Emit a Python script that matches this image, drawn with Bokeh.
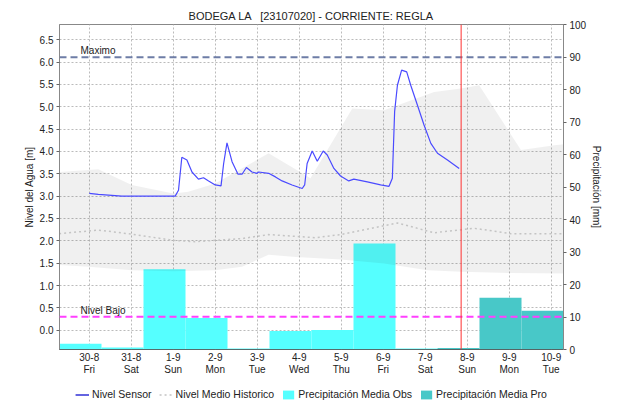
from bokeh.plotting import figure
from bokeh.layouts import column
from bokeh.models import (Range1d, LinearAxis, FixedTicker, Span, Label, Legend,
                          LegendItem, ColumnDataSource, NumeralTickFormatter)
from bokeh.embed import file_html
from bokeh.resources import INLINE

# ---------------- data ----------------
# time axis: hours since 2024-08-30 00:00
day_hours = [0, 24, 48, 72, 96, 120, 144, 168, 192, 216, 240, 264]
day_dates = ["30-8", "31-8", "1-9", "2-9", "3-9", "4-9", "5-9", "6-9", "7-9", "8-9", "9-9", "10-9"]
day_names = ["Fri", "Sat", "Sun", "Mon", "Tue", "Wed", "Thu", "Fri", "Sat", "Sun", "Mon", "Tue"]

sensor_hours = [0, 5.2, 18.6, 49.1, 51, 52.9, 55.8, 58.7, 62.4, 65.3, 68.2, 72, 75.3, 76.8, 78.7,
                81.6, 85, 87.3, 89.8, 93, 95.9, 96.8, 102.5, 106.4, 110.2, 115.9, 121.7, 123.1,
                124.5, 127.4, 130.3, 133.7, 136, 139.8, 143.6, 148.3, 151.2, 158.9, 166.5, 171.3,
                173.2, 174.5, 176.1, 178.5, 181.4, 183.7, 187.5, 191.3, 195.2, 199, 204.7, 211.4]
sensor_level = [3.06, 3.04, 3.00, 3.00, 3.13, 3.87, 3.81, 3.54, 3.38, 3.41, 3.34, 3.25, 3.23, 3.73,
                4.19, 3.77, 3.49, 3.49, 3.64, 3.54, 3.51, 3.54, 3.51, 3.43, 3.34, 3.25, 3.17, 3.25,
                3.73, 4.01, 3.78, 4.01, 3.92, 3.62, 3.45, 3.34, 3.38, 3.32, 3.25, 3.22, 3.40, 4.89,
                5.48, 5.82, 5.78, 5.48, 5.04, 4.59, 4.18, 3.96, 3.81, 3.62]

env_up_hours = [-17.2, 5.2, 24.3, 48.1, 56.5, 72, 102.5, 121.7, 126.4, 150.3, 168.4, 197, 212.3,
                222.8, 246.7, 265.8, 271.5]
env_up_level = [3.54, 3.60, 3.25, 3.06, 3.10, 3.28, 3.96, 3.51, 3.40, 4.96, 4.92, 5.33, 5.41,
                5.48, 4.03, 4.14, 4.16]
env_lo_hours = [-17.2, -0.6, 24.3, 48.1, 72, 87.3, 102.5, 117.8, 143.6, 168.4, 193.3, 212.3, 239.1, 271.5]
env_lo_level = [1.46, 1.42, 1.34, 1.32, 1.34, 1.42, 1.69, 1.64, 1.58, 1.49, 1.34, 1.31, 1.28, 1.27]

med_hours = [-17.2, 5.2, 24.3, 48.1, 60.5, 72, 87.3, 102.5, 129.3, 143.6, 176.1, 197, 220, 241, 271.5]
med_level = [2.16, 2.24, 2.15, 2.01, 1.98, 2.01, 2.05, 2.14, 2.07, 2.14, 2.40, 2.18, 2.28, 2.16, 2.16]

precip_obs = [1.8, 0.6, 24.7, 9.7, 0.3, 5.7, 6.0, 32.6, 0.3]   # 30-8 .. 7-9
precip_pro = [0.5, 15.9, 11.9]                                  # 8-9 .. 10-9

level_max = 6.11
level_low = 0.30
now_hour = 212.5
y_ticks = [0.0, 0.5, 1.0, 1.5, 2.0, 2.5, 3.0, 3.5, 4.0, 4.5, 5.0, 5.5, 6.0, 6.5]
p_ticks = [0, 10, 20, 30, 40, 50, 60, 70, 80, 90, 100]

FONT = "Liberation Sans"
TXT = "#222222"
C_SENSOR = "#4A4AFF"
C_MED = "#C4C4C4"
C_OBS = "#55FFFF"
C_PRO = "#48C8C8"

sensor_src = ColumnDataSource(dict(x=sensor_hours, y=sensor_level))
med_src = ColumnDataSource(dict(x=med_hours, y=med_level))
obs_src = ColumnDataSource(dict(
    left=[h - 17 for h in day_hours[:len(precip_obs)]],
    right=[h + 7 for h in day_hours[:len(precip_obs)]],
    top=precip_obs))
pro_src = ColumnDataSource(dict(
    left=[h - 17 for h in day_hours[len(precip_obs):]],
    right=[h + 7 for h in day_hours[len(precip_obs):]],
    top=precip_pro))

# ---------------- main figure ----------------
p = figure(width=618, height=384, output_backend="svg", toolbar_location=None,
           x_range=Range1d(-17, 271), y_range=Range1d(-0.432, 6.84),
           min_border_left=59, min_border_right=55, min_border_top=24, min_border_bottom=35,
           title="BODEGA LA \u00a0 [23107020] - CORRIENTE: REGLA")
p.title.align = "center"
p.title.text_font = FONT
p.title.text_font_size = "11px"
p.title.text_font_style = "normal"
p.title.text_color = TXT
p.title.standoff = 5
p.outline_line_color = "#888888"
p.background_fill_color = "white"
p.border_fill_color = "white"
p.extra_y_ranges = {"precip": Range1d(0, 100)}

# grids
p.xgrid.ticker = FixedTicker(ticks=day_hours)
p.ygrid.ticker = FixedTicker(ticks=y_ticks)
for g in (p.xgrid, p.ygrid):
    g.grid_line_color = "#BBBBBB"
    g.grid_line_dash = "2 2"
    g.grid_line_width = 1

# precipitation bars
p.quad(left="left", right="right", bottom=0, top="top", source=obs_src,
       y_range_name="precip", fill_color=C_OBS, line_color=None)
p.quad(left="left", right="right", bottom=0, top="top", source=pro_src,
       y_range_name="precip", fill_color=C_PRO, line_color=None)

# historic envelope
p.patch(env_up_hours + env_lo_hours[::-1], env_up_level + env_lo_level[::-1],
        fill_color="#000000", fill_alpha=0.06, line_color=None)
p.line("x", "y", source=med_src, line_color=C_MED, line_width=1.5, line_dash="2 3")

# thresholds
p.add_layout(Span(location=level_max, dimension="width", line_color="#6E7DA6",
                  line_width=2, line_dash="7 4"))
p.add_layout(Span(location=level_low, dimension="width", line_color="#FF3FFF",
                  line_width=2, line_dash="7 4"))
p.add_layout(Label(x=-5, y=level_max, y_offset=1, text="Maximo", text_font=FONT,
                   text_font_size="10px", text_color=TXT, text_baseline="bottom"))
p.add_layout(Label(x=-5, y=level_low, y_offset=1, text="Nivel Bajo", text_font=FONT,
                   text_font_size="10px", text_color=TXT, text_baseline="bottom"))

# sensor
p.line("x", "y", source=sensor_src, line_color=C_SENSOR, line_width=1.2)

# now line
p.add_layout(Span(location=now_hour, dimension="height", line_color="#FF3030", line_width=1))

# axes
xa = p.xaxis[0]
xa.ticker = FixedTicker(ticks=day_hours)
xa.major_label_overrides = {h: d for h, d in zip(day_hours, day_dates)}
xa.axis_line_color = "#333333"
xa.axis_line_dash = "1 1"
xa.major_tick_line_color = None
xa.minor_tick_line_color = None
xa.major_tick_out = 0
xa.major_tick_in = 0
xa.major_label_standoff = 3

xa2 = LinearAxis(ticker=FixedTicker(ticks=day_hours),
                 major_label_overrides={h: n for h, n in zip(day_hours, day_names)})
xa2.axis_line_color = None
xa2.major_tick_line_color = None
xa2.minor_tick_line_color = None
xa2.major_tick_out = 0
xa2.major_tick_in = 0
xa2.major_label_standoff = 0
p.add_layout(xa2, "below")

p.yaxis.ticker = FixedTicker(ticks=y_ticks)
p.yaxis.formatter = NumeralTickFormatter(format="0.0")
p.yaxis.axis_label = "Nivel del Agua [m]"
p.yaxis.minor_tick_line_color = None

ax2 = LinearAxis(y_range_name="precip", ticker=FixedTicker(ticks=p_ticks),
                 axis_label="Precipitación [mm]")
ax2.minor_tick_line_color = None
p.add_layout(ax2, "right")

for ax in [xa, xa2, p.yaxis[0], ax2]:
    ax.major_label_text_font = FONT
    ax.major_label_text_font_size = "10px"
    ax.major_label_text_color = TXT
    ax.axis_label_text_font = FONT
    ax.axis_label_text_font_size = "10px"
    ax.axis_label_text_font_style = "normal"
    ax.axis_label_text_color = TXT
for ax in [p.yaxis[0], ax2]:
    ax.axis_line_color = "#888888"
    ax.major_tick_line_color = "#666666"
    ax.major_tick_in = 0
    ax.major_tick_out = 3
    ax.major_label_standoff = 3
    ax.axis_label_standoff = 2

# ---------------- legend strip (same series, drawn out of view) ----------------
lg = figure(width=618, height=20, output_backend="svg", toolbar_location=None,
            x_range=Range1d(-17, 271), y_range=Range1d(-20, -10),
            min_border=0, min_border_left=0, min_border_right=0,
            min_border_top=0, min_border_bottom=0)
lg.axis.visible = False
lg.grid.visible = False
lg.outline_line_color = None
l_sen = lg.line("x", "y", source=sensor_src, line_color="#1010D0", line_width=1.3)
l_med = lg.line("x", "y", source=med_src, line_color=C_MED, line_width=1.5, line_dash="2 3")
l_obs = lg.quad(left="left", right="right", bottom=0, top="top", source=obs_src,
                fill_color=C_OBS, line_color=None)
l_pro = lg.quad(left="left", right="right", bottom=0, top="top", source=pro_src,
                fill_color=C_PRO, line_color=None)

legend = Legend(items=[
    LegendItem(label="Nivel Sensor", renderers=[l_sen]),
    LegendItem(label="Nivel Medio Historico", renderers=[l_med]),
    LegendItem(label="Precipitación Media Obs", renderers=[l_obs]),
    LegendItem(label="Precipitación Media Pro", renderers=[l_pro]),
], orientation="horizontal", location="center")
legend.label_text_font = FONT
legend.label_text_font_size = "10.5px"
legend.label_text_color = TXT
legend.glyph_width = 14
legend.glyph_height = 11
legend.label_standoff = 3
legend.spacing = 7
legend.padding = 0
legend.margin = 0
legend.border_line_color = None
legend.background_fill_alpha = 0
lg.add_layout(legend, "center")

layout = column(p, lg, spacing=0)
open("out.html", "w").write(file_html(layout, INLINE))
